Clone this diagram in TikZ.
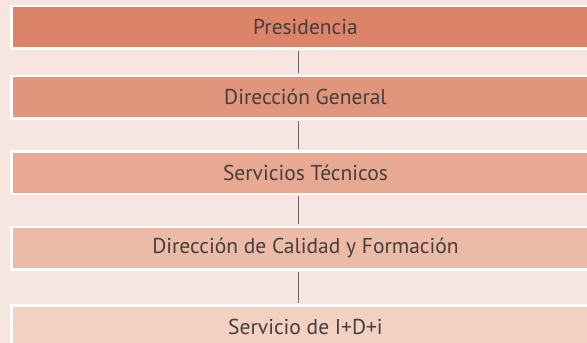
\documentclass[tikz,border=0pt]{standalone}
\usepackage{fontspec}
\setmainfont{PT Sans}
\definecolor{bg}{HTML}{F7E5DF}
\definecolor{cA}{HTML}{DB846A}
\definecolor{cB}{HTML}{E0967D}
\definecolor{cC}{HTML}{E7A991}
\definecolor{cD}{HTML}{ECBBA8}
\definecolor{cE}{HTML}{F2D1C3}
\definecolor{txt}{HTML}{453E3D}
\definecolor{conn}{HTML}{6E6462}
\tikzset{
  box/.style={rectangle, draw=white, line width=2.6pt, minimum width=587.6pt, minimum height=42.6pt,
    inner sep=0pt, text=txt, font=\fontsize{21.5}{24}\selectfont},
  link/.style={draw=conn, line width=1.2pt, shorten <=1.3pt, shorten >=1.3pt}
}
\begin{document}
\begin{tikzpicture}[x=1pt,y=-1pt]
\fill[bg] (0,0) rectangle (587,343);
\useasboundingbox (0,0) rectangle (587,343);
\node[box, fill=cA] (b1) at (305.5,27.4) {Presidencia};
\node[box, fill=cB] (b2) at (305.5,97.2) {Dirección General};
\node[box, fill=cC] (b3) at (305.5,172.5) {Servicios Técnicos};
\node[box, fill=cD] (b4) at (305.5,248.3) {Dirección de Calidad y Formación};
\node[box, fill=cE] (b5) at (305.5,326.7) {Servicio de I+D+i};
\coordinate (lx) at (298.7,0);
\draw[link] (b1.south -| lx) -- (b2.north -| lx);
\draw[link] (b2.south -| lx) -- (b3.north -| lx);
\draw[link] (b3.south -| lx) -- (b4.north -| lx);
\draw[link] (b4.south -| lx) -- (b5.north -| lx);
\end{tikzpicture}
\end{document}
